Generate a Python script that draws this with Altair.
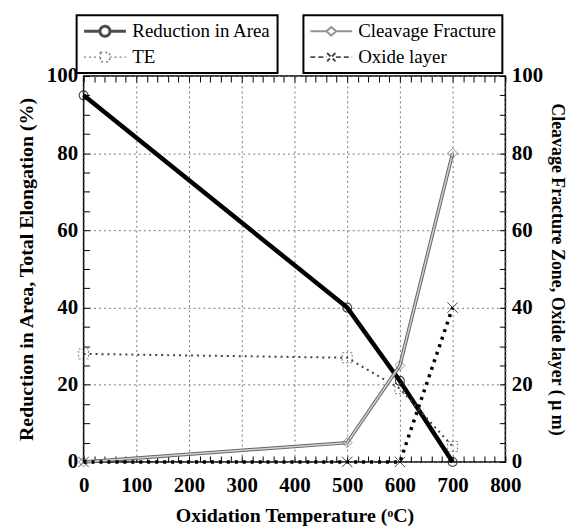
import altair as alt
import pandas as pd

# ---- data ----
temps = [0, 500, 600, 700]
reduction_area = [95, 40, 21, 0]
total_elong = [28, 27, 19, 4]
cleavage = [0, 5, 25, 80]
oxide = [0, 0, 0, 40]

left_names = ["Reduction in Area", "TE"]
right_names = ["Cleavage Fracture", "Oxide layer"]

rows = []
for name, vals in [(left_names[0], reduction_area), (left_names[1], total_elong),
                   (right_names[0], cleavage), (right_names[1], oxide)]:
    for t, v in zip(temps, vals):
        rows.append({"series": name, "temp": t, "value": v})
df = pd.DataFrame(rows)

FONT = "Liberation Serif"
xvals = list(range(0, 801, 20))
yvals = list(range(0, 101, 5))
TICK = {"expr": "-6"}

# ---- encodings ----
x_bottom = alt.X("temp:Q", scale=alt.Scale(domain=[0, 800], nice=False),
                 axis=alt.Axis(values=xvals, labelExpr="datum.value % 100 === 0 ? datum.label : ''",
                               tickSize=TICK, labelPadding=19, labelOverlap=False, labelFlush=False,
                               grid=True, gridOpacity={"expr": "datum.value % 100 === 0 ? 1 : 0"},
                               title="Oxidation Temperature (\u1d52C)", titlePadding=10))
x_top = alt.X("temp:Q", scale=alt.Scale(domain=[0, 800], nice=False),
              axis=alt.Axis(orient="top", values=xvals, labels=False, tickSize=TICK,
                            grid=False, title=None))
y_left = alt.Y("value:Q", scale=alt.Scale(domain=[0, 100], nice=False),
               axis=alt.Axis(values=yvals, labelExpr="datum.value % 20 === 0 ? datum.label : ''",
                             tickSize=TICK, labelPadding=12, labelOverlap=False, labelFlush=False,
                             grid=True, gridOpacity={"expr": "datum.value % 20 === 0 ? 1 : 0"},
                             title="Reduction in Area, Total Elongation (%)", titlePadding=10))
y_right = alt.Y("value:Q", scale=alt.Scale(domain=[0, 100], nice=False),
                axis=alt.Axis(orient="right", values=yvals,
                              labelExpr="datum.value % 20 === 0 ? datum.label : ''",
                              tickSize=TICK, labelPadding=12, labelOverlap=False, labelFlush=False,
                              grid=False, title="Cleavage Fracture Zone, Oxide layer ( \u03bc m)",
                              titlePadding=5, titleFontSize=18))

base = alt.Chart(df)


def sel(name):
    return alt.datum.series == name


# legend symbol paths (line + marker)
p_circle = "M-1,0L-0.24,0M0.24,0L1,0M0.24,0A0.24,0.24,0,1,1,-0.24,0A0.24,0.24,0,1,1,0.24,0"
p_square = "M-1,0L-0.22,0M0.22,0L1,0M-0.22,-0.22L0.22,-0.22L0.22,0.22L-0.22,0.22Z"
p_diamond = "M-1,0L-0.24,0M0.24,0L1,0M0,-0.2L0.24,0L0,0.2L-0.24,0Z"
p_x = "M-1,0L-0.22,0M0.22,0L1,0M-0.2,-0.2L0.2,0.2M0.2,-0.2L-0.2,0.2"


def legend(lx, ly):
    return alt.Legend(orient="none", legendX=lx, legendY=ly, title=None,
                      symbolSize=1764, clipHeight=20, rowPadding=6, labelOffset=5,
                      labelLimit=300, padding=6, labelFont=FONT, labelFontSize=19,
                      labelFontWeight="normal", labelColor="black")


def legend_layer(names, xenc, yenc, paths, colors, dashes, widths, lx, ly):
    lg = legend(lx, ly)
    return base.mark_point(filled=False).encode(
        x=xenc, y=yenc,
        shape=alt.Shape("series:N", scale=alt.Scale(domain=names, range=paths), legend=lg),
        color=alt.Color("series:N", scale=alt.Scale(domain=names, range=colors), legend=lg),
        strokeDash=alt.StrokeDash("series:N", scale=alt.Scale(domain=names, range=dashes), legend=lg),
        strokeWidth=alt.StrokeWidth("series:N", scale=alt.Scale(domain=names, range=widths), legend=lg),
    ).transform_filter("false")


# ---- left group ----
ra_line = base.mark_line(color="black", strokeWidth=4.5).encode(x=x_bottom, y=y_left).transform_filter(sel(left_names[0]))
ra_pts = base.mark_point(shape="circle", filled=False, color="black", size=80, strokeWidth=1.2).encode(
    x=x_bottom, y=y_left).transform_filter(sel(left_names[0]))
te_line = base.mark_line(color="#444444", strokeWidth=2, strokeDash=[2, 4]).encode(
    x=x_bottom, y=y_left).transform_filter(sel(left_names[1]))
te_pts = base.mark_point(shape="square", filled=False, color="#444444", size=100, strokeWidth=1,
                         strokeDash=[2, 2]).encode(x=x_bottom, y=y_left).transform_filter(sel(left_names[1]))
left_leg = legend_layer(left_names, x_bottom, y_left, [p_circle, p_square], ["black", "#444444"],
                        [[1, 0], [2, 3]], [3, 1.5], -7, -61)
left = alt.layer(ra_line, ra_pts, te_line, te_pts, left_leg)

# ---- right group ----
cl_outer = base.mark_line(color="#666666", strokeWidth=3.5).encode(x=x_top, y=y_right).transform_filter(sel(right_names[0]))
cl_inner = base.mark_line(color="#d0d0d0", strokeWidth=1.5).encode(x=x_top, y=y_right).transform_filter(sel(right_names[0]))
cl_pts = base.mark_point(shape="diamond", filled=False, color="#666666", size=100, strokeWidth=1).encode(
    x=x_top, y=y_right).transform_filter(sel(right_names[0]))
ox_line = base.mark_line(color="black", strokeWidth=3.5, strokeDash=[3, 5]).encode(
    x=x_top, y=y_right).transform_filter(sel(right_names[1]))
ox_pts = base.mark_point(shape="M-1,-1L1,1M1,-1L-1,1", filled=False, color="black", size=110,
                         strokeWidth=1).encode(x=x_top, y=y_right).transform_filter(sel(right_names[1]))
right_leg = legend_layer(right_names, x_top, y_right, [p_diamond, p_x], ["#666666", "black"],
                         [[1, 0], [5, 3]], [2, 2], 221, -61)
right = alt.layer(cl_outer, cl_inner, cl_pts, ox_line, ox_pts, right_leg)

chart = alt.layer(left, right).resolve_scale(
    y="independent", color="independent", shape="independent",
    strokeDash="independent", strokeWidth="independent"
).resolve_axis(x="independent", y="independent").properties(
    width=424, height=388, padding={"left": 8, "top": 5, "right": 4, "bottom": 0}
).configure_view(stroke="black", strokeWidth=1.5).configure_axis(
    labelFont=FONT, labelFontSize=21, labelFontWeight="bold", labelColor="black",
    titleFont=FONT, titleFontSize=20, titleFontWeight="bold", titleColor="black",
    tickColor="black", tickWidth=1, domain=False,
    gridColor="#777777", gridDash=[2, 3], gridWidth=1
).configure_legend(
    labelFont=FONT, labelFontSize=19, labelColor="black",
    strokeColor="black", strokeWidth=2, fillColor="white"
)

chart.save("out.html", embed_options={"renderer": "svg", "actions": False})
